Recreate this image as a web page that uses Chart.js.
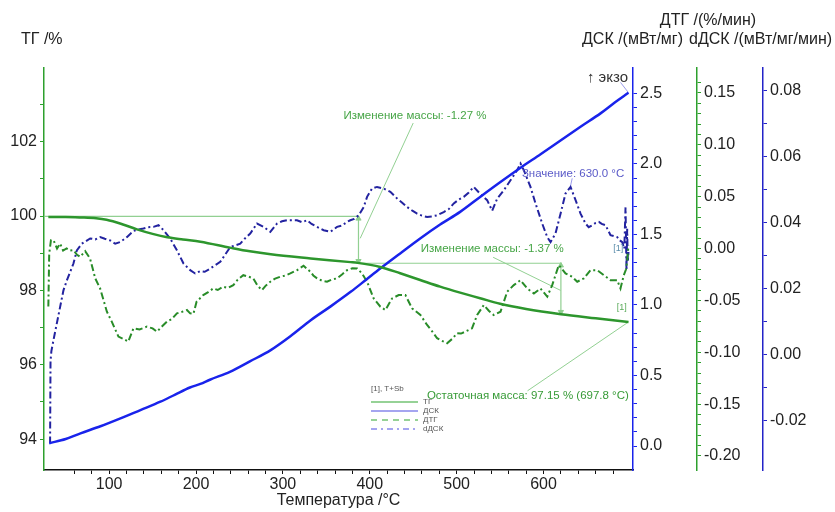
<!DOCTYPE html>
<html>
<head>
<meta charset="utf-8">
<script src="https://cdn.jsdelivr.net/npm/chart.js@4"></script>
<style>
  body { margin: 0; background: #fff; }
  canvas { display: block; }
</style>
</head>
<body>
<canvas id="chart" width="835" height="512"></canvas>
<script>
// TG curve (left axis, %)
const tgTemp = [30, 50, 67, 85, 97, 115, 132, 150, 167, 185, 205, 239, 262, 286, 332, 378, 386, 412, 435, 458, 481, 504, 527, 550, 580, 620, 660, 697.8];
const tgMass = [99.97, 99.97, 99.96, 99.94, 99.9, 99.78, 99.64, 99.52, 99.43, 99.37, 99.31, 99.15, 99.05, 98.97, 98.86, 98.76, 98.74, 98.63, 98.46, 98.28, 98.1, 97.94, 97.79, 97.64, 97.5, 97.36, 97.25, 97.15];

// DSC curve (mW/mg)
const dscTemp = [31, 50, 67, 90, 113, 136, 159, 176, 193, 205, 216, 239, 262, 286, 309, 332, 355, 378, 395, 412, 435, 458, 481, 504, 527, 550, 574, 597, 620, 643, 666, 682, 697.8];
const dscValue = [0.02, 0.05, 0.09, 0.14, 0.196, 0.255, 0.314, 0.365, 0.415, 0.44, 0.47, 0.526, 0.6, 0.68, 0.78, 0.892, 0.99, 1.093, 1.175, 1.258, 1.365, 1.471, 1.57, 1.66, 1.766, 1.87, 1.975, 2.07, 2.168, 2.265, 2.36, 2.435, 2.505];

// DTG curve (%/min)
const dtgTemp = [30, 31, 33, 36, 40, 43.5, 47, 51, 55, 59, 63, 66.6, 72.4, 78, 84, 89.6, 97.4, 103, 110.7, 116, 122, 128, 135, 143.5, 150, 155, 161, 166.5, 172, 178, 184, 189.5, 193.3, 197, 200.6, 208.3, 214, 219.8, 225, 231.3, 237, 242.9, 248, 254.4, 260, 265.9, 271, 275.9, 280, 285.5, 291, 297, 303, 308.5, 316, 323.8, 327, 331.6, 335, 339.3, 345, 350.8, 356, 362.3, 368, 373.8, 380, 385.4, 391.1, 396.9, 404.5, 412.2, 418, 425.7, 433.3, 441, 448.7, 458.3, 466, 472, 477.5, 483, 489, 495, 500.5, 505, 510.1, 517.7, 523.6, 531.2, 537, 542.7, 550.5, 558.2, 565.8, 573.5, 581.2, 588.9, 596.5, 604.3, 610, 617.6, 625.3, 633, 638.8, 646.4, 654.1, 661.8, 669.4, 677.1, 684.8, 688.6, 692.4, 695, 696.3, 697.8];
const dtgValue = [-0.056, -0.005, 0.008, 0.008, 0.0, 0.0048, -0.002, 0.0, -0.002, -0.0016, -0.006, -0.008, -0.0026, -0.0096, -0.0288, -0.0385, -0.0609, -0.0705, -0.0849, -0.087, -0.0897, -0.0769, -0.078, -0.0753, -0.077, -0.0801, -0.075, -0.0705, -0.068, -0.0625, -0.061, -0.0593, -0.0625, -0.063, -0.0513, -0.0449, -0.042, -0.0385, -0.04, -0.0368, -0.038, -0.0353, -0.03, -0.0257, -0.027, -0.0288, -0.036, -0.0401, -0.036, -0.032, -0.029, -0.0272, -0.026, -0.024, -0.021, -0.0166, -0.019, -0.0224, -0.026, -0.0288, -0.031, -0.032, -0.03, -0.0288, -0.025, -0.0209, -0.019, -0.0192, -0.024, -0.032, -0.0481, -0.0561, -0.0593, -0.0481, -0.0449, -0.0449, -0.0577, -0.0641, -0.0737, -0.08, -0.0865, -0.089, -0.0913, -0.087, -0.0817, -0.082, -0.0801, -0.0769, -0.0641, -0.0545, -0.06, -0.0641, -0.0609, -0.0416, -0.0353, -0.0305, -0.0385, -0.0433, -0.0385, -0.0464, -0.0353, -0.016, -0.024, -0.0272, -0.032, -0.0288, -0.0209, -0.0209, -0.0257, -0.0305, -0.0305, -0.0385, -0.0257, -0.02, -0.012, 0.003];

// dDSC curve (mW/mg/min)
const ddscTemp = [32, 32.5, 33.5, 35.8, 39.7, 43.5, 47.4, 51.3, 58.9, 62.8, 68.5, 78.1, 84, 89.6, 95, 101.2, 107, 112.7, 120.4, 128, 133, 139.5, 145, 151, 156.8, 162.6, 170.2, 178, 185.6, 193.3, 199, 204.8, 210, 216.4, 221, 227.9, 233, 239.4, 245, 250.9, 256, 262.4, 270.2, 277.8, 285.5, 293.2, 299, 304.7, 316.2, 322, 327.8, 333, 339.3, 346.9, 354.6, 362.3, 368, 373.8, 377.6, 382, 387.2, 393, 396.9, 402.6, 408.4, 416, 423.7, 431.5, 437, 443, 449, 454.5, 460, 466, 472, 477.5, 485.1, 491, 496.7, 502, 508.2, 514, 519.7, 527.4, 535.1, 540.9, 546.7, 554.3, 562, 569.7, 573.5, 577.3, 585, 590.8, 598.5, 604.3, 608.1, 613.8, 619.6, 625.3, 631.1, 636.9, 642.6, 648.4, 652, 656.1, 660, 663.7, 667, 671.4, 677.1, 684.8, 688, 690.6, 693, 694.4, 695.5, 696.3, 697, 697.8];
const ddscValue = [-0.027, -0.002, 0.001, 0.0042, 0.0093, 0.0143, 0.0194, 0.0224, 0.0275, 0.0315, 0.0335, 0.0351, 0.0348, 0.0355, 0.035, 0.0345, 0.0335, 0.034, 0.0355, 0.0374, 0.0378, 0.0381, 0.0385, 0.0386, 0.0391, 0.0376, 0.0351, 0.0315, 0.0275, 0.0255, 0.0245, 0.0252, 0.025, 0.026, 0.0268, 0.028, 0.03, 0.0325, 0.033, 0.0335, 0.035, 0.0366, 0.0396, 0.0386, 0.0371, 0.0396, 0.0403, 0.0406, 0.0406, 0.04, 0.0406, 0.0395, 0.0386, 0.0376, 0.0371, 0.0386, 0.039, 0.0401, 0.0406, 0.041, 0.0421, 0.0446, 0.0477, 0.0502, 0.0507, 0.0502, 0.0492, 0.0472, 0.046, 0.0446, 0.0435, 0.0426, 0.042, 0.0416, 0.0418, 0.0421, 0.0431, 0.044, 0.0457, 0.0468, 0.0477, 0.049, 0.0507, 0.0485, 0.0467, 0.0435, 0.0472, 0.0497, 0.0527, 0.0558, 0.0578, 0.0558, 0.0507, 0.0457, 0.0396, 0.0355, 0.034, 0.0366, 0.0426, 0.0487, 0.0507, 0.0467, 0.0426, 0.0396, 0.0385, 0.0391, 0.0398, 0.0401, 0.0395, 0.0391, 0.0361, 0.0355, 0.0345, 0.034, 0.032, 0.0445, 0.0255, 0.038, 0.028, 0.031];

// mass-change guide lines (TG axis)
const guideTemp = [25, 387, 387, 620, 620];
const guideMass = [99.99, 99.99, 98.73, 98.73, 97.36];
const arrowTemp = [387, 387, 620, 620];
const arrowMass = [99.93, 98.79, 98.67, 97.42];
const arrowRot = [0, 180, 0, 180];

// label leader lines: [t1, v1, t2, v2, axis]
const leaders = [
  [450, 102.5, 389, 99.4, 'yTG'],
  [542, 98.89, 619.6, 98.0, 'yTG'],
  [581.6, 95.3, 697.8, 97.15, 'yTG'],
  [633, 0.0533, 631, 0.0509, 'ydDSC'],
  [688.6, 2.578, 697.8, 2.505, 'yDSC']
];

const FONT = "'Liberation Sans', Arial, 'DejaVu Sans', sans-serif";
const GREEN = 'rgb(45,150,45)';
const BLUE = 'rgb(25,35,235)';
const DARKBLUE = 'rgb(35,35,160)';
const PALEGREEN = 'rgba(140,205,140,0.95)';
const PALEBLUE = 'rgba(150,150,235,0.95)';

function pts(xs, ys) {
  return xs.map((t, i) => ({ x: t, y: ys[i] }));
}

// keep only ticks on the step grid (drop the min/max extra ticks)
function onGrid(step) {
  return (axis) => {
    axis.ticks = axis.ticks.filter(t => Math.abs(t.value / step - Math.round(t.value / step)) < 1e-6);
  };
}

function labelEvery(every, digits) {
  return (v) => {
    const k = v / every;
    if (Math.abs(k - Math.round(k)) > 1e-6) return '';
    return (Math.round(v * 1000) / 1000).toFixed(digits);
  };
}

const datasets = [
  { label: 'ТГ', data: pts(tgTemp, tgMass), yAxisID: 'yTG', borderColor: GREEN, borderWidth: 2.5, cubicInterpolationMode: 'monotone' },
  { label: 'ДСК', data: pts(dscTemp, dscValue), yAxisID: 'yDSC', borderColor: BLUE, borderWidth: 2.5, cubicInterpolationMode: 'monotone' },
  { label: 'ДТГ', data: pts(dtgTemp, dtgValue), yAxisID: 'yDTG', borderColor: 'rgb(40,140,40)', borderWidth: 2, borderDash: [7, 3, 2, 3] },
  { label: 'dДСК', data: pts(ddscTemp, ddscValue), yAxisID: 'ydDSC', borderColor: DARKBLUE, borderWidth: 2, borderDash: [7, 3, 2, 3] },
  { label: 'guide', data: pts(guideTemp, guideMass), yAxisID: 'yTG', borderColor: PALEGREEN, borderWidth: 1.2 },
  { label: 'arrows', data: pts(arrowTemp, arrowMass), yAxisID: 'yTG', showLine: false, pointRadius: 3,
    pointStyle: 'triangle', rotation: arrowRot, pointBackgroundColor: PALEGREEN, pointBorderColor: PALEGREEN }
];

for (const l of leaders) {
  datasets.push({
    label: 'leader', data: [{ x: l[0], y: l[1] }, { x: l[2], y: l[3] }], yAxisID: l[4],
    borderColor: l[4] === 'yTG' ? PALEGREEN : PALEBLUE, borderWidth: 1
  });
}

// free text on the plot, anchored to data values
const notes = [
  { text: 'Изменение массы: -1.27 %', t: 452, v: 102.7, axis: 'yTG', color: 'rgb(70,165,70)', size: 11.5 },
  { text: 'Изменение массы: -1.37 %', t: 541, v: 99.11, axis: 'yTG', color: 'rgb(70,165,70)', size: 11.5 },
  { text: 'Значение: 630.0 °C', t: 634, v: 0.0548, axis: 'ydDSC', color: 'rgb(90,90,200)', size: 11.5 },
  { text: 'Остаточная масса: 97.15 % (697.8 °C)', t: 582, v: 95.17, axis: 'yTG', color: 'rgb(55,155,55)', size: 11.5 },
  { text: '[1]', t: 690, v: 97.55, axis: 'yTG', color: 'rgb(90,170,90)', size: 9 },
  { text: '[1]', t: 686, v: -0.0, axis: 'yDTG', color: 'rgb(90,140,170)', size: 9 }
];

const overlay = {
  id: 'overlay',
  afterDraw(chart) {
    const ctx = chart.ctx;
    const sx = chart.scales.x;
    ctx.save();
    ctx.textBaseline = 'middle';

    // axis titles
    ctx.fillStyle = '#222';
    ctx.font = '16px ' + FONT;
    ctx.textAlign = 'left';
    ctx.fillText('ТГ /%', 21, 40);
    ctx.fillText('ДСК /(мВт/мг)', 582, 40);
    ctx.fillText('dДСК /(мВт/мг/мин)', 689, 40);
    ctx.textAlign = 'center';
    ctx.fillText('ДТГ /(%/мин)', 708, 21);

    ctx.font = '15px ' + FONT;
    ctx.textAlign = 'right';
    ctx.fillStyle = '#333';
    ctx.fillText('↑ экзо', 628, 78);

    // annotations
    ctx.textAlign = 'center';
    for (const n of notes) {
      ctx.font = n.size + 'px ' + FONT;
      ctx.fillStyle = n.color;
      ctx.fillText(n.text, sx.getPixelForValue(n.t), chart.scales[n.axis].getPixelForValue(n.v));
    }

    // legend box
    const lx = 371, ly = 389;
    ctx.textAlign = 'left';
    ctx.font = '8px ' + FONT;
    ctx.fillStyle = '#555';
    ctx.fillText('[1], T+Sb', lx, ly);
    const rows = [
      { name: 'ТГ', color: 'rgb(150,210,150)', dash: [] },
      { name: 'ДСК', color: 'rgb(165,165,240)', dash: [] },
      { name: 'ДТГ', color: 'rgb(150,210,150)', dash: [6, 5] },
      { name: 'dДСК', color: 'rgb(165,165,240)', dash: [6, 4, 2, 4] }
    ];
    rows.forEach((r, i) => {
      const y = ly + 13 + i * 9;
      ctx.strokeStyle = r.color;
      ctx.lineWidth = 2;
      ctx.setLineDash(r.dash);
      ctx.beginPath();
      ctx.moveTo(lx, y);
      ctx.lineTo(lx + 47, y);
      ctx.stroke();
      ctx.fillStyle = '#555';
      ctx.fillText(r.name, lx + 52, y);
    });
    ctx.restore();
  }
};

function yAxis(opts) {
  return Object.assign({
    type: 'linear',
    grid: { drawOnChartArea: false, drawTicks: true, tickLength: 4, tickWidth: 1, tickColor: opts.color },
    border: { display: true, color: opts.color, width: 1.5 },
    ticks: { stepSize: opts.step, color: '#222', font: { family: FONT, size: 16 }, padding: 3,
      callback: labelEvery(opts.every, opts.digits), autoSkip: false },
    afterBuildTicks: onGrid(opts.step),
    afterFit: (axis) => { axis.width = opts.width; }
  }, opts.extra);
}

new Chart(document.getElementById('chart'), {
  type: 'line',
  data: { datasets: datasets },
  plugins: [overlay],
  options: {
    responsive: false,
    animation: false,
    devicePixelRatio: 1,
    layout: { padding: { top: 68, right: 0, left: 0, bottom: 0 } },
    elements: { point: { radius: 0 }, line: { tension: 0, fill: false } },
    plugins: { legend: { display: false }, tooltip: { enabled: false } },
    scales: {
      x: {
        type: 'linear', position: 'bottom', min: 25, max: 703,
        grid: { drawOnChartArea: false, drawTicks: true, tickLength: 4, tickColor: '#111' },
        border: { color: '#111', width: 1.5 },
        ticks: { stepSize: 20, color: '#222', font: { family: FONT, size: 16 }, padding: 1, maxRotation: 0, autoSkip: false,
          callback: (v) => (Math.round(v) % 100 === 0 ? String(Math.round(v)) : '') },
        afterBuildTicks: onGrid(20),
        title: { display: true, text: 'Температура /°C', color: '#222', font: { family: FONT, size: 16 }, padding: { top: 0, bottom: 2 } },
        afterFit: (axis) => { axis.height = 42; }
      },
      yTG: yAxis({ color: 'rgb(45,160,45)', step: 1, every: 2, digits: 0, width: 44,
        extra: { position: 'left', min: 93.17, max: 103.98 } }),
      yDSC: yAxis({ color: 'rgb(25,35,235)', step: 0.1, every: 0.5, digits: 1, width: 64,
        extra: { position: 'right', min: -0.17, max: 2.68, weight: 0 } }),
      yDTG: yAxis({ color: 'rgb(45,160,45)', step: 0.01, every: 0.05, digits: 2, width: 66,
        extra: { position: 'right', min: -0.2135, max: 0.174, weight: 1 } }),
      ydDSC: yAxis({ color: 'rgb(35,35,200)', step: 0.01, every: 0.02, digits: 2, width: 72,
        extra: { position: 'right', min: -0.035, max: 0.0867, weight: 2 } })
    }
  }
});
</script>
</body>
</html>
